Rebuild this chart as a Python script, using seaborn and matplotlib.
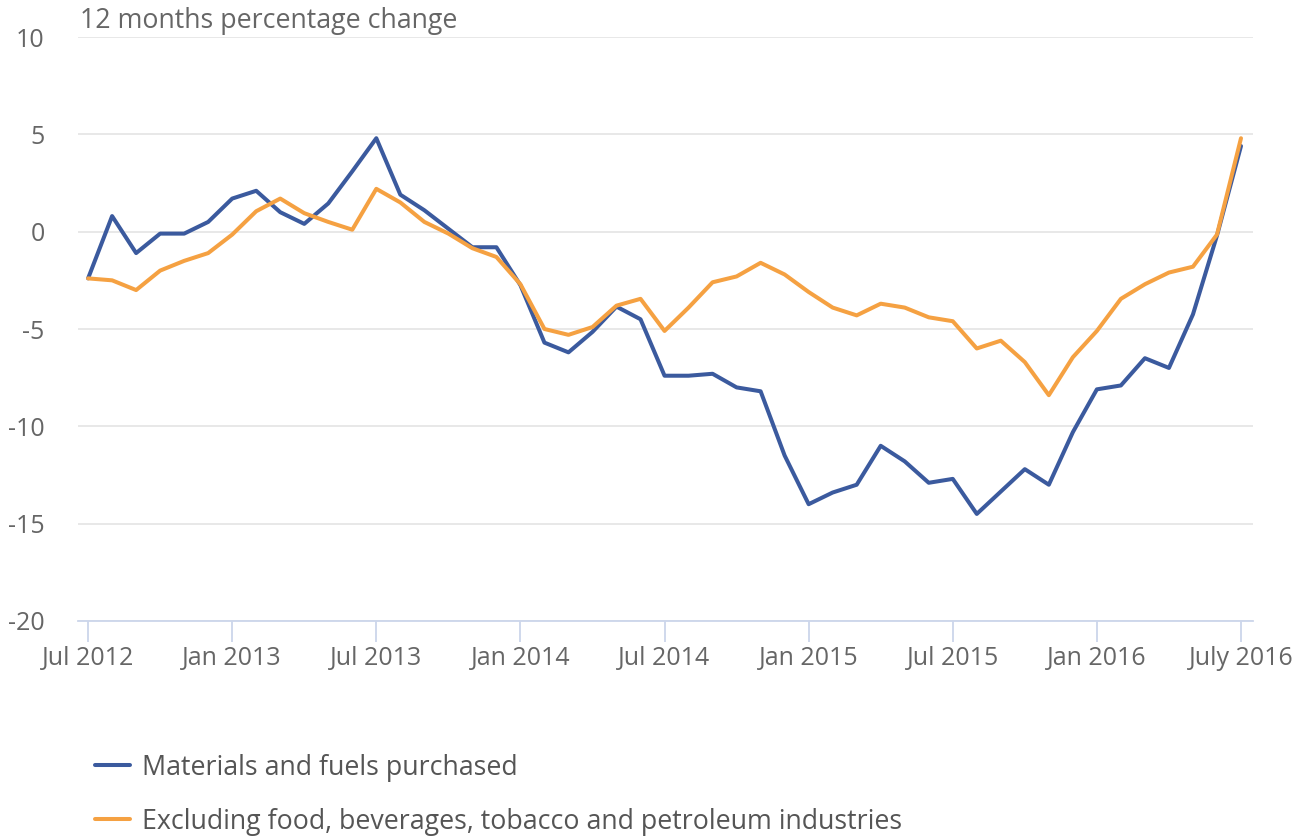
import numpy as np
import pandas as pd
import matplotlib
matplotlib.use("Agg")
import matplotlib.pyplot as plt
import seaborn as sns
from matplotlib.lines import Line2D

months = list(range(49))  # Jul 2012 .. Jul 2016
materials = [-2.4, 0.8, -1.1, -0.1, -0.1, 0.5, 1.7, 2.1, 1.0, 0.4, 1.45, 3.1, 4.8,
             1.9, 1.1, 0.15, -0.8, -0.8, -2.75, -5.7, -6.2, -5.15, -3.85, -4.5, -7.4,
             -7.4, -7.3, -8.0, -8.2, -11.5, -14.0, -13.4, -13.0, -11.0, -11.8, -12.9,
             -12.7, -14.5, -13.35, -12.2, -13.0, -10.3, -8.1, -7.9, -6.5, -7.0, -4.25,
             -0.2, 4.4]
excluding = [-2.4, -2.5, -3.0, -2.0, -1.5, -1.1, -0.15, 1.05, 1.7, 0.95, 0.5, 0.1, 2.2,
             1.5, 0.5, -0.1, -0.85, -1.3, -2.7, -5.0, -5.3, -4.9, -3.8, -3.45, -5.1,
             -3.9, -2.6, -2.3, -1.6, -2.2, -3.1, -3.9, -4.3, -3.7, -3.9, -4.4, -4.6,
             -6.0, -5.6, -6.7, -8.4, -6.45, -5.1, -3.45, -2.7, -2.1, -1.8, -0.15, 4.8]
series_names = ["Materials and fuels purchased",
                "Excluding food, beverages, tobacco and petroleum industries"]
tick_positions = [0, 6, 12, 18, 24, 30, 36, 42, 48]
tick_labels = ["Jul 2012", "Jan 2013", "Jul 2013", "Jan 2014", "Jul 2014",
               "Jan 2015", "Jul 2015", "Jan 2016", "July 2016"]
y_ticks = [10, 5, 0, -5, -10, -15, -20]
colors = ["#3b5a9e", "#f5a142"]

df = pd.DataFrame({
    "month": months * 2,
    "value": materials + excluding,
    "series": [series_names[0]] * len(months) + [series_names[1]] * len(months),
})

sns.set_theme(style="white")
plt.rcParams["font.family"] = ["Open Sans", "DejaVu Sans"]

fig = plt.figure(figsize=(13.04, 8.36), dpi=100)
ax = fig.add_axes([78 / 1304, 1 - 621 / 836, (1253 - 78) / 1304, (621 - 37) / 836])

sns.lineplot(data=df, x="month", y="value", hue="series", palette=colors,
             linewidth=2.9, ax=ax, legend=False, sort=False)

ax.set_xlim(-0.42, 48.5)
ax.set_ylim(-20, 10)
ax.set_yticks(y_ticks)
ax.set_yticklabels([str(v) for v in y_ticks])
ax.set_xticks(tick_positions)
ax.set_xticklabels(tick_labels)
ax.grid(axis="y", color="#e6e6e6", linewidth=1.3)
ax.grid(axis="x", visible=False)
ax.set_axisbelow(True)
for s in ["top", "right", "left"]:
    ax.spines[s].set_visible(False)
ax.spines["bottom"].set_color("#ccd6eb")
ax.spines["bottom"].set_linewidth(1.3)
ax.tick_params(axis="x", length=15, width=1.3, color="#ccd6eb", labelcolor="#666666",
               labelsize=18, pad=3, bottom=True)
ax.tick_params(axis="y", length=0, labelcolor="#666666", labelsize=18, pad=24)
ax.set_xlabel("")
ax.set_ylabel("")

fig.text(80 / 1304, 1 - 21 / 836, "12 months percentage change", color="#666666",
         fontsize=19.3, va="center", ha="left")

handles = [Line2D([0], [0], color=c, linewidth=2.9) for c in colors]
fig.legend(handles, series_names, loc="upper left",
           bbox_to_anchor=(84 / 1304, 1 - 743 / 836), frameon=False,
           borderaxespad=0, fontsize=19.3, labelcolor="#555555",
           handlelength=1.3, handletextpad=0.45, labelspacing=0.97)

fig.savefig("out.png", dpi=100)
